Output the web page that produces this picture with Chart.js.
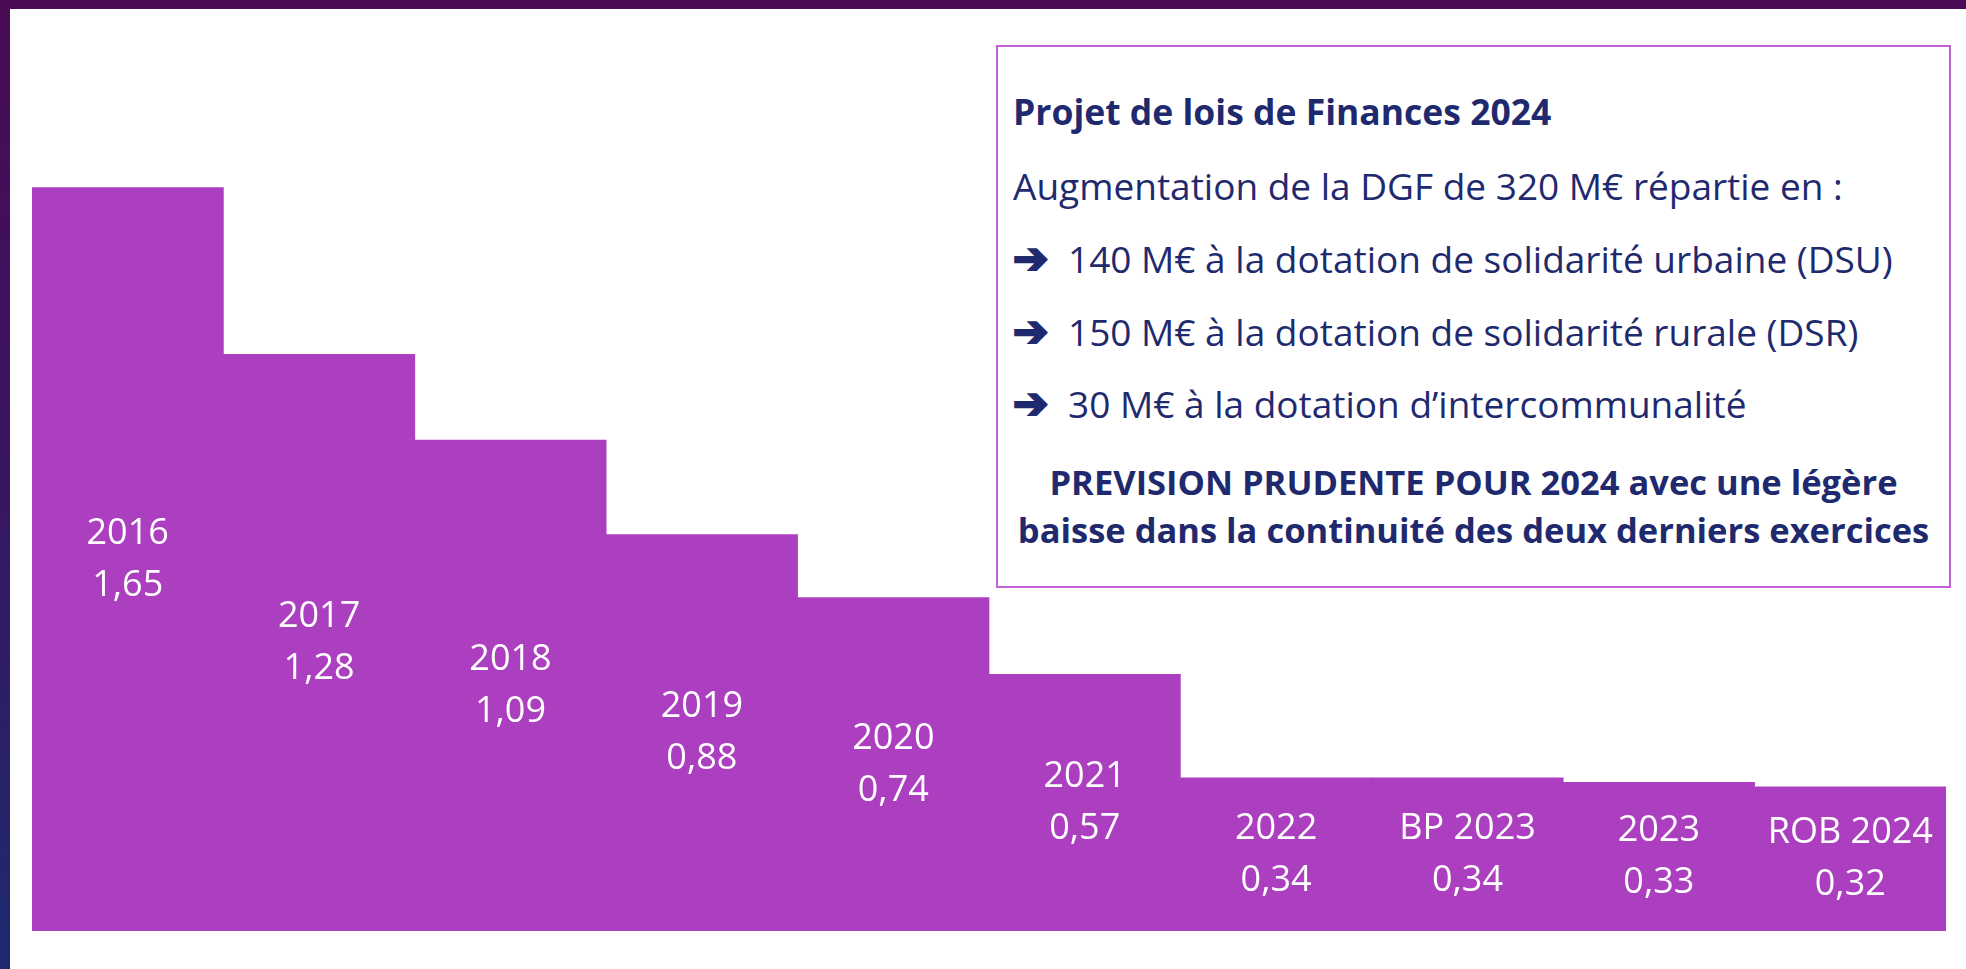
<!DOCTYPE html>
<html lang="fr">
<head>
<meta charset="utf-8">
<title>DGF</title>
<script src="https://cdn.jsdelivr.net/npm/chart.js@4"></script>
<style>
  html, body { margin: 0; padding: 0; }
  body {
    width: 1966px; height: 969px; overflow: hidden; position: relative;
    background: linear-gradient(to bottom, #4a0b55 0%, #3a1460 45%, #1e2a6e 100%);
    font-family: 'Open Sans', sans-serif;
  }
  .panel { position: absolute; left: 10px; top: 9px; right: 0; bottom: 0; background: #fff; }
  .chart-wrap { position: absolute; left: 32px; top: 30px; width: 1914px; height: 901px; }
  .box {
    position: absolute; left: 996px; top: 45px; width: 951px; height: 539px;
    border: 2px solid #c15fd7; background: #fff; color: #1f2a6e;
  }
  .box div { position: absolute; white-space: nowrap; transform: translateY(-50%); }
  .t { font-weight: 700; font-size: 35.5px; }
  .b { font-weight: 700; font-size: 34.5px; }
  .r { font-size: 37px; }
  .arrow {
    display: inline-block; width: 55px;
    font-family: 'DejaVu Sans', sans-serif; font-size: 42px; font-weight: 700;
    -webkit-text-stroke: 2.5px #1f2a6e;
  }
  .c { left: 0; right: 0; text-align: center; }
</style>
</head>
<body>
<div class="panel"></div>
<div class="chart-wrap"><canvas id="dgfChart"></canvas></div>
<div class="box">
  <div class="t" style="left:15px; top:64px">Projet de lois de Finances 2024</div>
  <div class="r" style="left:15px; top:138px">Augmentation de la DGF de 320 M€ répartie en :</div>
  <div class="r" style="left:15px; top:211px"><span class="arrow">➔</span>140 M€ à la dotation de solidarité urbaine (DSU)</div>
  <div class="r" style="left:15px; top:284px"><span class="arrow">➔</span>150 M€ à la dotation de solidarité rurale (DSR)</div>
  <div class="r" style="left:15px; top:356px"><span class="arrow">➔</span>30 M€ à la dotation d’intercommunalité</div>
  <div class="b c" style="top:434px">PREVISION PRUDENTE POUR 2024 avec une légère</div>
  <div class="b c" style="top:482px">baisse dans la continuité des deux derniers exercices</div>
</div>
<script>
// Données (Md€)
const years = ['2016','2017','2018','2019','2020','2021','2022','BP 2023','2023','ROB 2024'];
const amounts = [1.65, 1.28, 1.09, 0.88, 0.74, 0.57, 0.34, 0.34, 0.33, 0.32];

// Étiquettes dans les barres : année + valeur
const barLabels = {
  id: 'barLabels',
  afterDatasetsDraw(chart) {
    const ctx = chart.ctx;
    const meta = chart.getDatasetMeta(0);
    ctx.save();
    ctx.fillStyle = '#ffffff';
    ctx.font = '36px "Open Sans", sans-serif';
    ctx.textAlign = 'center';
    ctx.textBaseline = 'middle';
    meta.data.forEach((bar, i) => {
      const cy = (bar.y + bar.base) / 2;
      ctx.fillText(years[i], bar.x, cy - 26);
      ctx.fillText(amounts[i].toFixed(2).replace('.', ','), bar.x, cy + 26);
    });
    ctx.restore();
  }
};

new Chart(document.getElementById('dgfChart'), {
  type: 'bar',
  data: {
    labels: years,
    datasets: [{
      data: amounts,
      backgroundColor: '#ac3ec0',
      borderWidth: 0,
      barPercentage: 1,
      categoryPercentage: 1
    }]
  },
  options: {
    responsive: true,
    maintainAspectRatio: false,
    animation: false,
    layout: { padding: 0 },
    plugins: { legend: { display: false }, tooltip: { enabled: false } },
    scales: {
      x: { display: false },
      y: { display: false, min: 0, max: 2 }
    }
  },
  plugins: [barLabels]
});
</script>
</body>
</html>
